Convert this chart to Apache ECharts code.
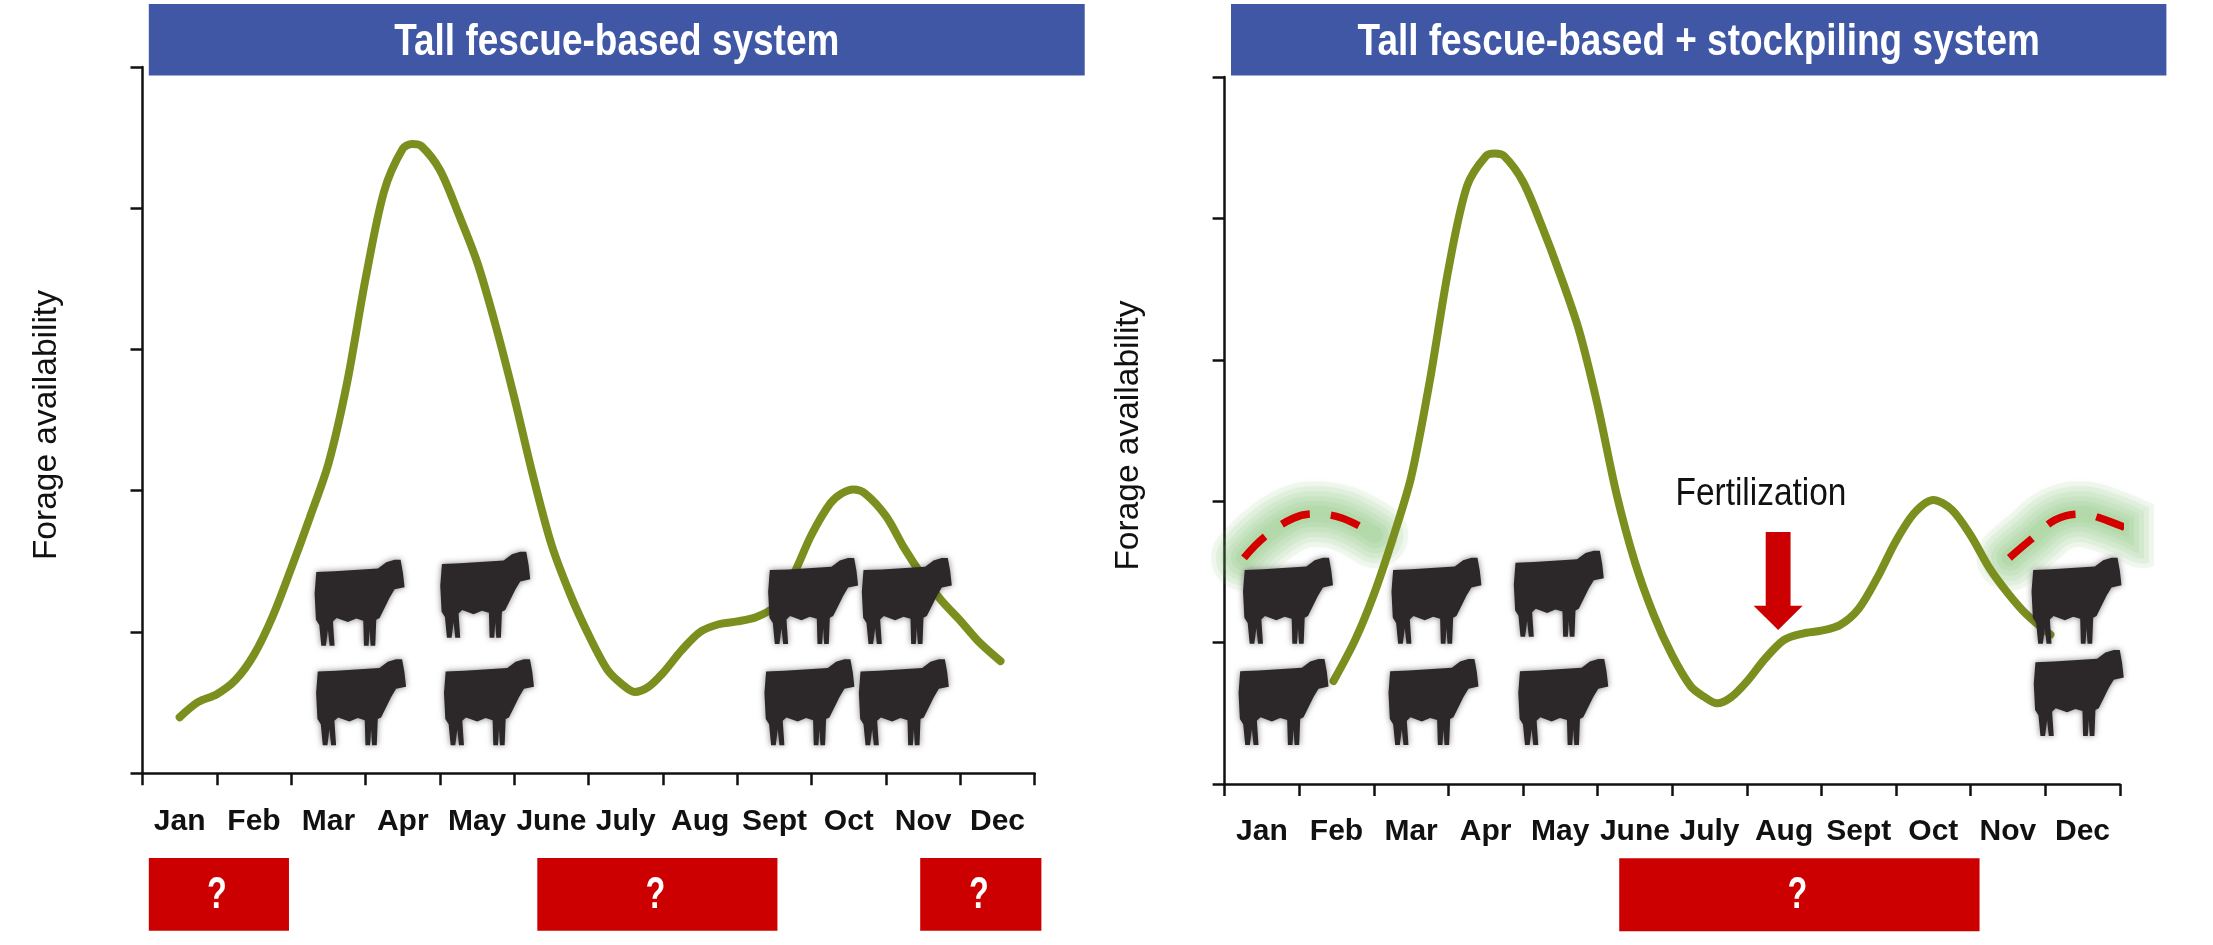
<!DOCTYPE html>
<html><head><meta charset="utf-8">
<style>html,body{margin:0;padding:0;background:#fff}#c{width:2213px;height:945px}</style>
<script src="https://cdn.jsdelivr.net/npm/echarts@6/dist/echarts.min.js"></script>
</head><body><div id="c"></div>
<script>
const months = ['Jan','Feb','Mar','Apr','May','June','July','Aug','Sept','Oct','Nov','Dec'];
const leftCurve = [[0.50,0.397],[0.75,0.505],[1.00,0.56],[1.25,0.66],[1.50,0.84],[1.75,1.11],[2.00,1.45],[2.25,1.81],[2.50,2.19],[2.75,2.76],[3.00,3.50],[3.25,4.12],[3.50,4.42],[3.625,4.455],[3.75,4.44],[4.00,4.27],[4.25,3.96],[4.50,3.62],[4.75,3.17],[5.00,2.66],[5.25,2.11],[5.50,1.62],[5.75,1.27],[6.00,0.98],[6.25,0.735],[6.45,0.63],[6.62,0.576],[6.80,0.61],[7.00,0.71],[7.25,0.87],[7.50,1.00],[7.75,1.055],[8.00,1.075],[8.25,1.105],[8.50,1.18],[8.75,1.40],[9.00,1.69],[9.25,1.91],[9.40,1.98],[9.56,2.009],[9.72,1.98],[10.00,1.82],[10.25,1.59],[10.50,1.39],[10.75,1.22],[11.00,1.08],[11.25,0.93],[11.54,0.794]];
const rightCurve = [[1.46,0.729],[1.75,1.02],[2.00,1.34],[2.25,1.73],[2.50,2.17],[2.75,2.85],[3.00,3.64],[3.25,4.23],[3.50,4.44],[3.625,4.459],[3.75,4.44],[4.00,4.26],[4.25,3.95],[4.50,3.60],[4.75,3.21],[5.00,2.68],[5.25,2.06],[5.50,1.57],[5.75,1.20],[6.00,0.91],[6.25,0.69],[6.42,0.62],[6.60,0.571],[6.78,0.61],[7.00,0.725],[7.25,0.89],[7.50,1.02],[7.75,1.065],[8.00,1.085],[8.25,1.125],[8.50,1.24],[8.75,1.46],[9.00,1.72],[9.25,1.92],[9.50,2.01],[9.75,1.94],[10.00,1.76],[10.25,1.53],[10.50,1.35],[10.75,1.20],[11.07,1.057]];
const stockpileJan = [[0.26,1.60],[0.54,1.75],[0.92,1.88],[1.20,1.91],[1.58,1.88],[2.02,1.76]];
const stockpileDec = [[10.52,1.60],[10.81,1.73],[11.14,1.87],[11.47,1.91],[11.85,1.86],[12.30,1.76]];
const leftCows = [[2.92,1.207],[4.61,1.263],[2.94,0.503],[4.66,0.503],[9.02,1.22],[10.28,1.22],[8.97,0.503],[10.24,0.503]];
const rightCows = [[0.85,1.296],[0.79,0.58],[2.84,1.296],[2.80,0.58],[4.48,1.347],[4.54,0.58],[11.42,1.296],[11.45,0.644]];
const leftGaps = [[0.085,1.97],[5.31,8.54],[10.46,12.09]];
const rightGaps = [[5.29,10.12]];
const fertilization = [[7.42,1.436]];
const fertilizationLabel = [[7.19,2.05]];
const titles = ['Tall fescue-based system','Tall fescue-based + stockpiling system'];

const SANS = '"Liberation Sans",sans-serif';
const GREEN = '#7b8f1f', RED = '#cc0000', INK = '#111';
const cow = 'path://M5 38 L60 36 L190 28 L215 10 L240 3 L258 3 L265 40 L270 82 L240 88 L225 112 L208 145 L195 170 L185 175 L182 250 L168 250 L165 205 L162 250 L148 250 L146 178 L125 172 L100 182 L66 170 L55 180 L60 250 L45 250 L40 205 L34 250 L20 250 L14 190 L4 175 L0 100 Z';
const arrow = 'path://M17 0 L52 0 L52 122 L69 122 L34.5 162 L0 122 L17 122 Z';

const panels = [
  {left:142.5,top:66.9,width:892.2,height:706.4},
  {left:1224.6,top:77.1,width:895.2,height:707}
];
const grid = panels;
const xAxis = [], yAxis = [];
panels.forEach((p,i)=>{
  yAxis.push({type:'value',gridIndex:i,min:0,max:5,interval:1,splitLine:{show:false},
    name:'Forage availability',nameLocation:'middle',nameGap:79,
    nameTextStyle:{fontFamily:SANS,fontSize:33.5,color:INK,padding:[0,10,0,0]},
    axisLine:{show:true,lineStyle:{color:INK,width:2.5}},
    axisTick:{show:true,length:12,lineStyle:{color:INK,width:2.5}},axisLabel:{show:false}});
  xAxis.push({type:'category',gridIndex:i,data:months,boundaryGap:true,
    axisLine:{show:true,lineStyle:{color:INK,width:2.5}},
    axisTick:{show:true,alignWithLabel:false,interval:0,length:12,lineStyle:{color:INK,width:2.5}},
    axisLabel:{interval:0,margin:33,fontFamily:SANS,fontWeight:'bold',fontSize:30,color:INK},splitLine:{show:false}});
});
panels.forEach((p,i)=>{
  xAxis.push({type:'value',gridIndex:i,min:0,max:12,show:false,splitLine:{show:false}});
});

const curve=(d,i)=>({type:'line',xAxisIndex:i+2,yAxisIndex:i,data:d,smooth:0.3,showSymbol:false,symbol:'none',z:3,clip:false,silent:true,
  lineStyle:{color:GREEN,width:8,cap:'round'}});
const cows=(d,i)=>({type:'scatter',xAxisIndex:i+2,yAxisIndex:i,data:d,symbol:cow,symbolSize:[90,86],z:4,silent:true,clip:false,
  itemStyle:{color:'#2c2729',opacity:1,shadowBlur:6,shadowColor:'rgba(60,55,55,.6)'}});
const glowWidths=[66,56,46,36,26,16];
const glow=(d)=>glowWidths.map(w=>({type:'line',xAxisIndex:3,yAxisIndex:1,data:d,smooth:0.4,showSymbol:false,symbol:'none',z:1,clip:false,silent:true,
  lineStyle:{color:'rgba(120,185,95,.1)',width:w,cap:'round',shadowBlur:16,shadowColor:'rgba(120,185,95,.12)'}}));
const dash=(d)=>({type:'line',xAxisIndex:3,yAxisIndex:1,data:d,smooth:0.4,showSymbol:false,symbol:'none',z:5,clip:false,silent:true,
  lineStyle:{color:'#d40000',width:7.5,type:[30,21]}});
const gaps=(d,i,y0,y1)=>({type:'custom',xAxisIndex:i+2,yAxisIndex:i,data:d,clip:false,silent:true,z:2,
  encode:{x:[0,1]},
  renderItem:(params,api)=>{
    const a=api.coord([api.value(0),y0]), b=api.coord([api.value(1),y1]);
    return {type:'group',children:[
      {type:'rect',shape:{x:a[0],y:a[1],width:b[0]-a[0],height:b[1]-a[1]},style:{fill:RED}},
      {type:'text',x:(a[0]+b[0])/2-2,y:(a[1]+b[1])/2+1,scaleX:0.72,style:{text:'?',x:0,y:0,align:'center',verticalAlign:'middle',fill:'#fff',font:'bold 45px '+SANS}}
    ]};
  }});

const banners=[[148.8,1084.7],[1231,2166.4]];
const option={
  animation:false,backgroundColor:'#fff',grid,xAxis,yAxis,
  graphic:banners.map((b,i)=>({type:'group',children:[
    {type:'rect',shape:{x:b[0],y:4,width:b[1]-b[0],height:71.5},style:{fill:'#3f57a5'}},
    {type:'text',x:(b[0]+b[1])/2,y:43,scaleX:0.84,style:{text:titles[i],x:0,y:0,align:'center',verticalAlign:'middle',fill:'#fff',font:'bold 44px '+SANS}}
  ]})),
  series:[
    curve(leftCurve,0),cows(leftCows,0),gaps(leftGaps,0,-0.60,-1.115),
    ...glow(stockpileJan),...glow(stockpileDec),
    curve(rightCurve,1),cows(rightCows,1),gaps(rightGaps,1,-0.525,-1.04),
    dash(stockpileJan),dash(stockpileDec),
    {type:'scatter',xAxisIndex:3,yAxisIndex:1,data:fertilization,symbol:arrow,symbolSize:[49,98],z:5,silent:true,itemStyle:{color:RED,opacity:1}},
    {type:'custom',xAxisIndex:3,yAxisIndex:1,data:fertilizationLabel,z:5,silent:true,clip:false,
      renderItem:(params,api)=>{
        const c=api.coord([api.value(0),api.value(1)]);
        return {type:'text',x:c[0],y:c[1],scaleX:0.88,style:{text:'Fertilization',x:0,y:0,align:'center',verticalAlign:'middle',fill:INK,font:'38px '+SANS}};
      }}
  ]
};
echarts.init(document.getElementById('c')).setOption(option);
</script></body></html>
